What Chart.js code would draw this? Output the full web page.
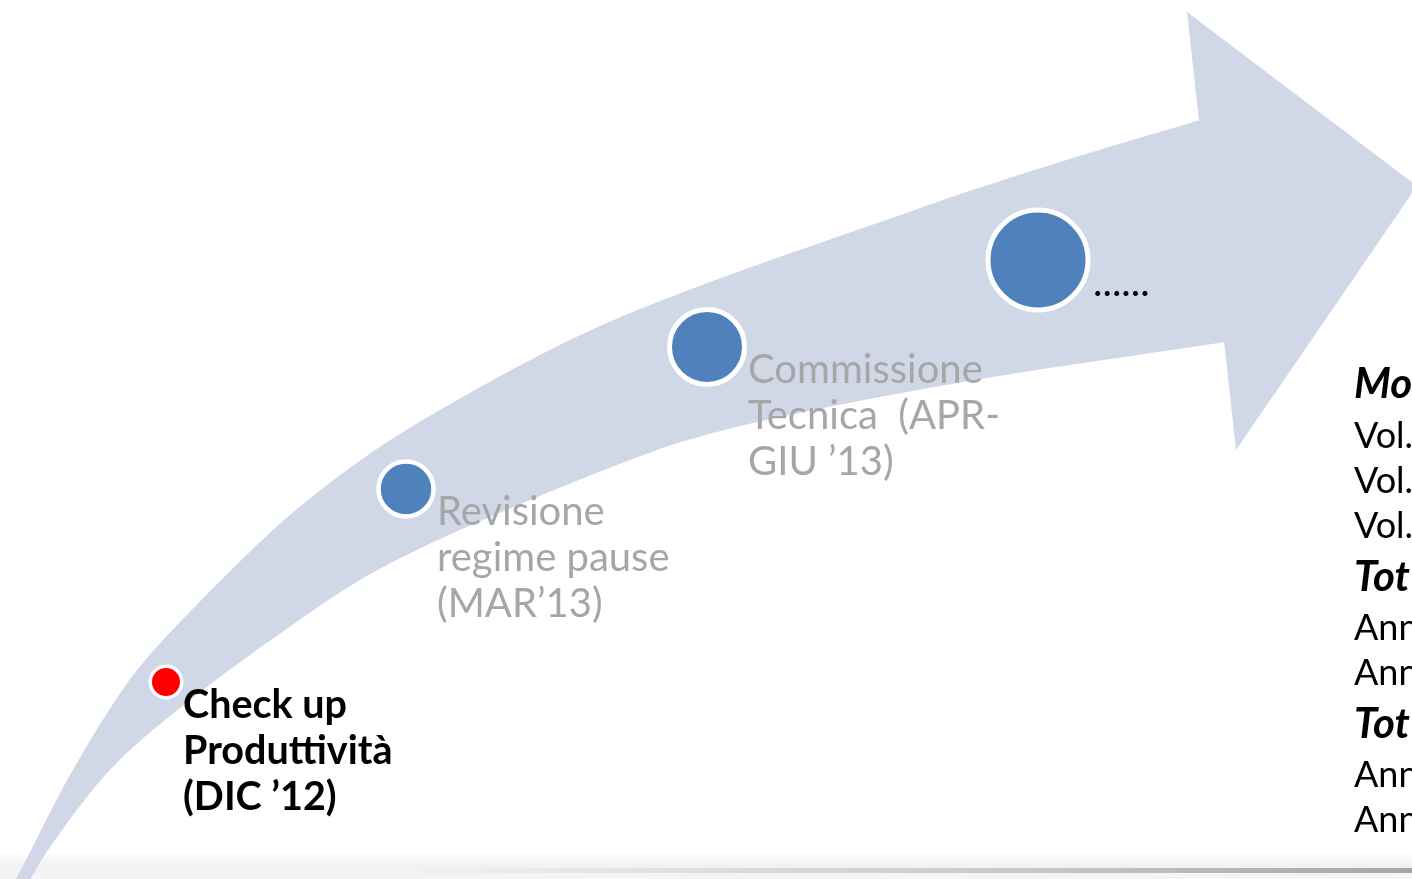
<!DOCTYPE html>
<html>
<head>
<meta charset="utf-8">
<script src="https://cdn.jsdelivr.net/npm/chart.js@4.4.0/dist/chart.umd.min.js"></script>
<style>
    html, body { margin: 0; padding: 0; background: #ffffff; overflow: hidden; }
    #wrap { width: 1412px; height: 879px; position: relative; }
</style>
</head>
<body>
<div id="wrap"><canvas id="roadmapChart"></canvas></div>
<script>
// Milestones along the arrow (slide units: x to the right, y downwards)
const milestoneNames = [
    ['Check up', 'Produttività', '(DIC ’12)'],
    ['Revisione', 'regime pause', '(MAR’13)'],
    ['Commissione', 'Tecnica  (APR-', 'GIU ’13)'],
    ['......']
];
const milestoneX = [166, 406, 707, 1038];
const milestoneY = [682, 489, 347, 260];

// Curved shaft outline: upper edge left to right, then lower edge back
const shaftX = [0, 17, 70, 128, 180, 290, 403, 609, 923, 1060, 1200, 1260,
    1275, 1225, 975, 766, 657, 460, 360, 257, 190, 130, 95, 55, 30, 22];
const shaftY = [905, 877, 775, 682, 622, 515, 432, 322, 207, 162, 120, 102,
    334, 342, 380, 420, 450, 530, 580, 650, 700, 750, 787, 840, 880, 905];

// Arrow head outline
const headX = [1199, 1187, 1417, 1236, 1224];
const headY = [121, 12, 186, 450, 341];

// Text column on the right, cut off by the slide edge
const sideLines = ['Mo', 'Vol.', 'Vol.', 'Vol.', 'Tot', 'Ann', 'Ann', 'Tot', 'Ann', 'Ann'];
const sideBold = [true, false, false, false, true, false, false, true, false, false];

const toPoints = (xs, ys) => xs.map((x, i) => ({ x: x, y: ys[i] }));

// Soft grey floor line at the bottom of the slide
const floorPlugin = {
    id: 'floor',
    beforeDatasetsDraw(chart) {
        const ctx = chart.ctx;
        const w = chart.width, h = chart.height;
        ctx.save();
        let g = ctx.createLinearGradient(0, h - 26, 0, h);
        g.addColorStop(0, 'rgba(235,235,235,0)');
        g.addColorStop(0.5, 'rgba(238,238,238,0.8)');
        g.addColorStop(1, 'rgba(245,245,245,1)');
        ctx.fillStyle = g;
        ctx.fillRect(0, h - 26, w, 26);
        g = ctx.createLinearGradient(400, 0, w, 0);
        g.addColorStop(0, 'rgba(150,150,150,0)');
        g.addColorStop(0.6, 'rgba(150,150,150,0.45)');
        g.addColorStop(1, 'rgba(140,140,140,0.75)');
        ctx.fillStyle = g;
        ctx.fillRect(400, h - 11, w - 400, 5);
        ctx.restore();
    }
};

// Milestone captions and the right hand text column
const textPlugin = {
    id: 'captions',
    afterDatasetsDraw(chart, args, opts) {
        const ctx = chart.ctx;
        const xs = chart.scales.x, ys = chart.scales.y;
        ctx.save();
        ctx.textAlign = 'left';
        ctx.textBaseline = 'alphabetic';
        milestoneNames.forEach((lines, i) => {
            const px = xs.getPixelForValue(milestoneX[i]) + opts.dx[i];
            const py = ys.getPixelForValue(milestoneY[i]) + opts.dy;
            ctx.fillStyle = opts.colors[i];
            ctx.font = opts.fonts[i];
            lines.forEach((t, j) => ctx.fillText(t, px, py + j * opts.lineGap));
        });
        sideLines.forEach((t, i) => {
            ctx.fillStyle = '#000000';
            ctx.font = sideBold[i] ? 'italic bold 42px Lato' : '36px Lato';
            ctx.fillText(t, 1354, opts.sideBase[i]);
        });
        ctx.restore();
    }
};

const chart = new Chart(document.getElementById('roadmapChart'), {
    type: 'scatter',
    data: {
        datasets: [
            {
                label: 'Milestones',
                data: toPoints(milestoneX, milestoneY),
                pointRadius: [15.75, 27.5, 37.5, 50],
                pointBorderWidth: [3.5, 4.5, 5, 5],
                pointBackgroundColor: ['#ff0000', '#4f81bd', '#4f81bd', '#4f81bd'],
                pointBorderColor: '#ffffff',
                pointHoverRadius: [15.75, 27.5, 37.5, 50],
                order: 0
            },
            {
                label: 'Head',
                data: toPoints(headX, headY),
                showLine: true,
                fill: 'shape',
                backgroundColor: 'rgb(208, 216, 232)',
                borderWidth: 0,
                borderColor: 'rgba(0,0,0,0)',
                pointRadius: 0,
                tension: 0,
                order: 1
            },
            {
                label: 'Shaft',
                data: toPoints(shaftX, shaftY),
                showLine: true,
                fill: 'shape',
                backgroundColor: 'rgb(208, 216, 232)',
                borderWidth: 0,
                borderColor: 'rgba(0,0,0,0)',
                pointRadius: 0,
                tension: 0.3,
                order: 2
            }
        ]
    },
    options: {
        responsive: true,
        maintainAspectRatio: false,
        animation: false,
        events: [],
        layout: { padding: 0, autoPadding: false },
        scales: {
            x: { type: 'linear', min: 0, max: 1412, display: false },
            y: { type: 'linear', min: 0, max: 879, reverse: true, display: false }
        },
        plugins: {
            legend: { display: false },
            tooltip: { enabled: false },
            captions: {
                dx: [17, 31, 41, 55],
                dy: 36,
                lineGap: 46,
                colors: ['#000000', '#a6a6a6', '#a6a6a6', '#000000'],
                fonts: ['bold 39.5px Lato', '40px Lato', '40px Lato', '40px Lato'],
                sideBase: [398, 448, 493, 538, 591, 640, 685, 738, 787, 832]
            }
        }
    },
    plugins: [floorPlugin, textPlugin]
});
</script>
</body>
</html>
